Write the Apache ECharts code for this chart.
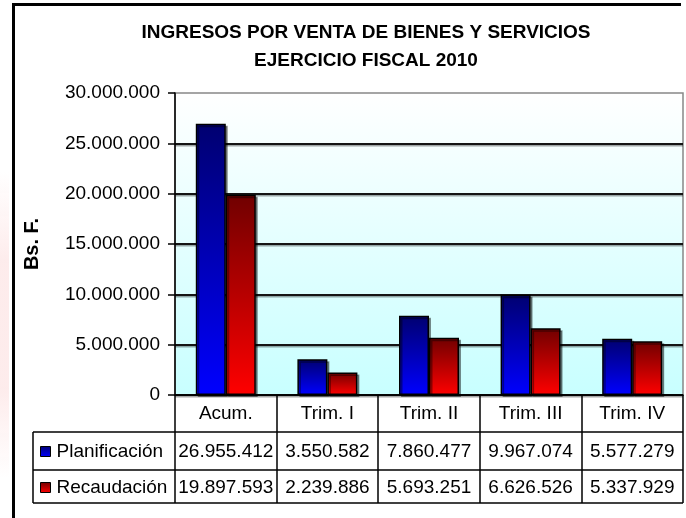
<!DOCTYPE html>
<html>
<head>
<meta charset="utf-8">
<script src="https://cdn.jsdelivr.net/npm/echarts@6/dist/echarts.min.js"></script>
<style>
  html, body { margin: 0; padding: 0; background: #fff; }
  #chart { width: 686px; height: 518px; }
</style>
</head>
<body>
<div id="chart"></div>
<script>
// datos del gráfico
const categories = ["Acum.", "Trim. I", "Trim. II", "Trim. III", "Trim. IV"];
const planificacion = [26955412, 3550582, 7860477, 9967074, 5577279];
const recaudacion = [19897593, 2239886, 5693251, 6626526, 5337929];
const yTicks = { min: 0, max: 30000000, interval: 5000000 };

const FONT = "Liberation Sans";

function fmt(n) {
  return String(n).replace(/\B(?=(\d{3})+(?!\d))/g, ".");
}

const chart = echarts.init(document.getElementById("chart"));

const blueGrad = new echarts.graphic.LinearGradient(0, 0, 0, 1, [
  { offset: 0, color: "#000070" },
  { offset: 1, color: "#0000ff" }
]);
const redGrad = new echarts.graphic.LinearGradient(0, 0, 0, 1, [
  { offset: 0, color: "#700000" },
  { offset: 1, color: "#ff0000" }
]);

// filas de la tabla de datos (ejes extra con etiquetas)
function rowAxis(values, margin) {
  return {
    type: "category",
    data: categories,
    position: "bottom",
    axisLine: { show: false },
    axisTick: { show: false },
    axisLabel: {
      interval: 0,
      margin: margin,
      color: "#000",
      fontFamily: FONT,
      fontSize: 19,
      formatter: (v, i) => fmt(values[i])
    }
  };
}

const line = (x1, y1, x2, y2, w) => ({
  type: "line",
  shape: { x1, y1, x2, y2 },
  style: { stroke: "#000", lineWidth: w || 1.5 },
  z: 100
});

let option = {
  animation: false,
  textStyle: { fontFamily: FONT },
  title: {
    text: "INGRESOS POR VENTA DE BIENES Y SERVICIOS\nEJERCICIO FISCAL 2010",
    left: 361,
    top: 14,
    textAlign: "center",
    textStyle: {
      fontFamily: FONT,
      fontSize: 19,
      fontWeight: "bold",
      color: "#000",
      lineHeight: 28,
      align: "center"
    }
  },
  legend: {
    orient: "vertical",
    left: 35,
    top: 437,
    itemWidth: 10,
    itemHeight: 10,
    itemGap: 17,
    icon: "rect",
    itemStyle: { borderColor: "#000", borderWidth: 1 },
    textStyle: { fontFamily: FONT, fontSize: 19, color: "#000", padding: [0, 0, 0, 1] },
    data: ["Planificación", "Recaudación"]
  },
  grid: {
    left: 175,
    right: 3,
    top: 93,
    bottom: 123,
    show: true,
    borderColor: "#888",
    borderWidth: 1.5,
    backgroundColor: new echarts.graphic.LinearGradient(0, 0, 0, 1, [
      { offset: 0, color: "#ffffff" },
      { offset: 1, color: "#c8ffff" }
    ])
  },
  xAxis: [
    {
      type: "category",
      data: categories,
      position: "bottom",
      axisLine: { lineStyle: { color: "#000", width: 1.5 } },
      axisTick: { show: true, length: 108, lineStyle: { color: "#000", width: 1.5 } },
      axisLabel: { interval: 0, margin: 9, color: "#000", fontFamily: FONT, fontSize: 19 }
    },
    rowAxis(planificacion, 47),
    rowAxis(recaudacion, 83)
  ],
  yAxis: {
    type: "value",
    min: yTicks.min,
    max: yTicks.max,
    interval: yTicks.interval,
    name: "Bs. F.",
    nameLocation: "middle",
    nameRotate: 90,
    nameGap: 133,
    nameTextStyle: { fontFamily: FONT, fontSize: 20, fontWeight: "bold", color: "#000" },
    axisLine: { show: true, lineStyle: { color: "#000", width: 1.5 } },
    axisTick: { show: true, length: 7, lineStyle: { color: "#000", width: 1.5 } },
    axisLabel: { margin: 15, color: "#000", fontFamily: FONT, fontSize: 19, formatter: v => fmt(v) },
    splitLine: {
      show: true,
      showMaxLine: false,
      lineStyle: { color: "#151515", width: 2, shadowColor: "rgba(0,0,0,0.35)", shadowOffsetY: 1.5 }
    }
  },
  series: [
    {
      name: "Planificación",
      type: "bar",
      data: planificacion,
      barWidth: 30,
      barGap: "0%",
      itemStyle: {
        color: blueGrad,
        borderColor: "#000",
        borderWidth: 1.5,
        shadowColor: "rgba(0,0,0,0.4)",
        shadowOffsetX: 2,
        shadowOffsetY: 2
      }
    },
    {
      name: "Recaudación",
      type: "bar",
      data: recaudacion,
      barWidth: 30,
      itemStyle: {
        color: redGrad,
        borderColor: "#000",
        borderWidth: 1.5,
        shadowColor: "rgba(0,0,0,0.4)",
        shadowOffsetX: 2,
        shadowOffsetY: 2
      }
    }
  ],
  graphic: [
    // marco exterior
    line(12, 4.5, 681, 4.5, 3),
    line(13.5, 3, 13.5, 518, 3),
    // mancha rosada a la izquierda
    {
      type: "rect",
      shape: { x: 0, y: 170, width: 9, height: 310 },
      style: {
        fill: new echarts.graphic.LinearGradient(0, 0, 0, 1, [
          { offset: 0, color: "rgba(250,200,200,0)" },
          { offset: 0.3, color: "rgba(250,200,200,0.35)" },
          { offset: 0.7, color: "rgba(250,200,200,0.35)" },
          { offset: 1, color: "rgba(250,200,200,0)" }
        ])
      },
      silent: true
    },
    // líneas de la tabla de datos
    line(33, 432, 683, 432),
    line(33, 470, 683, 470),
    line(33, 503, 683, 503),
    line(33, 432, 33, 503)
  ]
};

chart.setOption(option);
</script>
</body>
</html>
